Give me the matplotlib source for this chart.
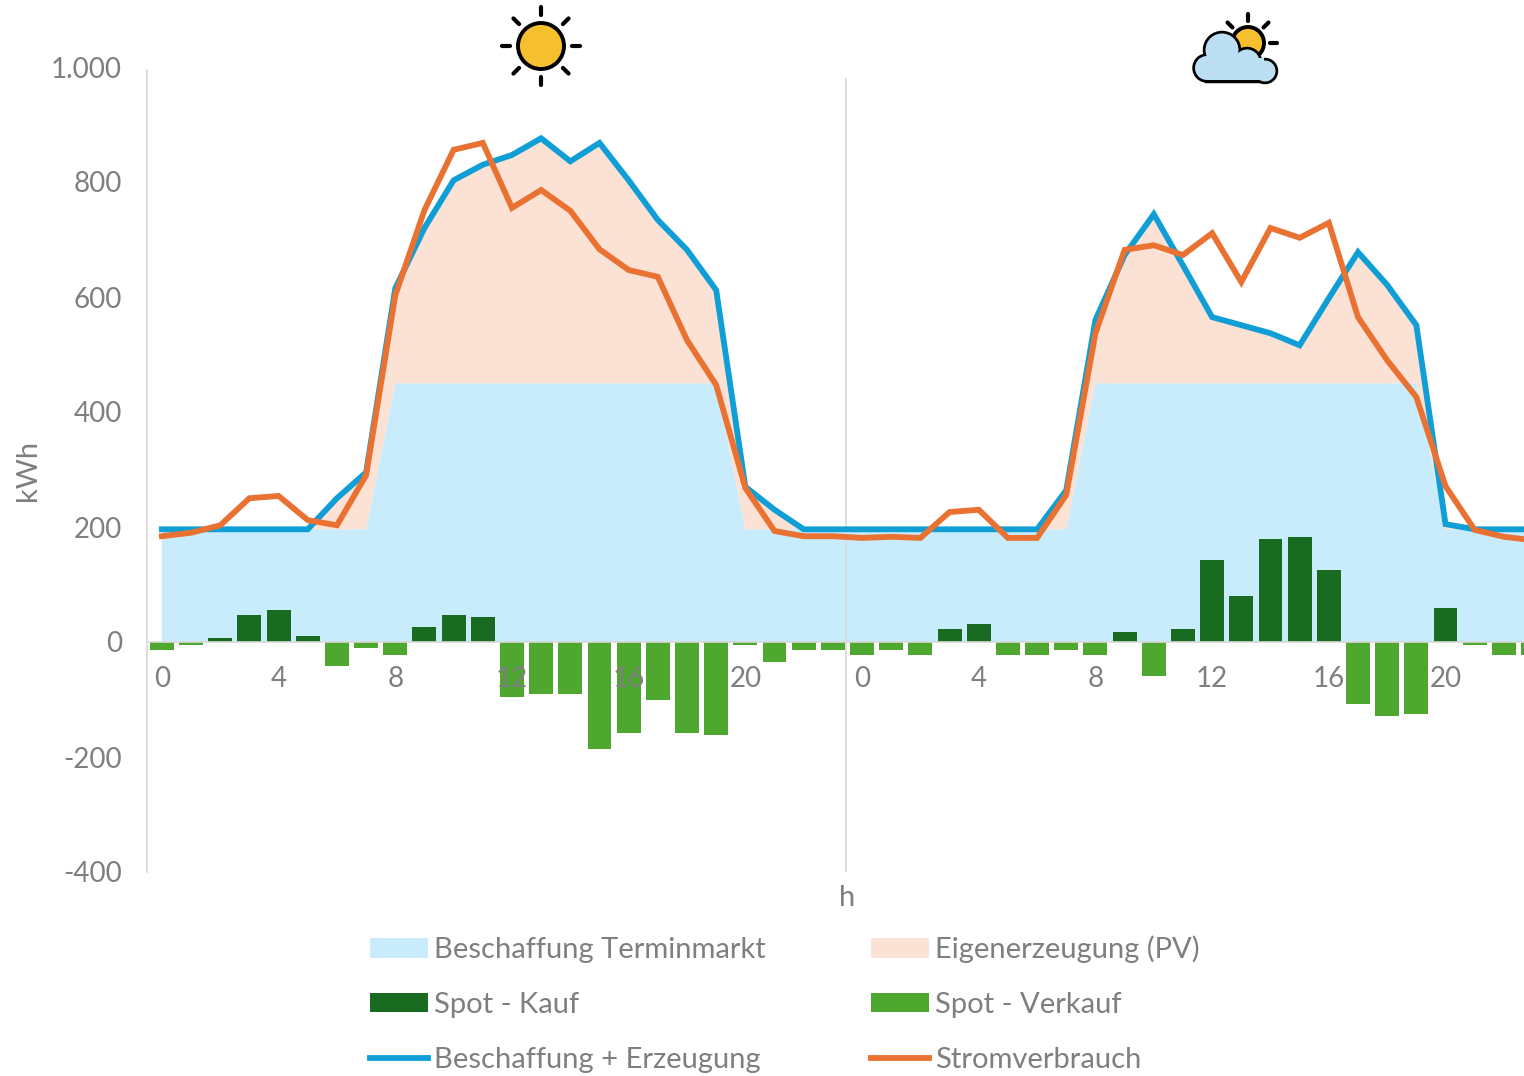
import matplotlib
matplotlib.use("Agg")
import matplotlib.pyplot as plt
import numpy as np
from matplotlib.patches import Circle, Rectangle

plt.rcParams['font.family'] = ['Lato', 'DejaVu Sans']

# two days, hourly
hours = list(range(48))
terminmarkt = [196] * 8 + [450] * 12 + [196] * 4 + [196] * 8 + [450] * 12 + [196] * 4
eigenerzeugung = [0, 0, 0, 0, 0, 0, 54, 99, 165, 270, 353, 380, 397, 426, 386, 418, 353, 284, 232, 162, 74, 34, 0, 0,
                  0, 0, 0, 0, 0, 0, 0, 68, 110, 223, 294, 205, 115, 101, 87, 66, 148, 228, 171, 101, 9, 0, 0, 0]
spot = [-14, -6, 7, 47, 56, 10, -42, -10, -22, 26, 47, 43, -96, -91, -91, -186, -158, -100, -158, -162, -6, -34, -14, -14,
        -22, -14, -22, 22, 31, -22, -22, -14, -22, 18, -59, 22, 142, 80, 179, 183, 125, -108, -129, -125, 60, -6, -22, -22]
beschaffung = [196, 196, 196, 196, 196, 196, 250, 295, 615, 720, 803, 830, 847, 876, 836, 868, 803, 734, 682, 612, 270, 230, 196, 196,
               196, 196, 196, 196, 196, 196, 196, 264, 560, 673, 744, 655, 565, 551, 537, 516, 598, 678, 621, 551, 205, 196, 196, 196]
verbrauch = [184, 190, 203, 250, 254, 212, 203, 290, 603, 751, 856, 868, 755, 786, 750, 683, 647, 635, 525, 447, 268, 193, 184, 184,
             181, 183, 181, 226, 230, 181, 181, 256, 537, 682, 690, 673, 711, 626, 720, 703, 729, 565, 490, 426, 271, 195, 183, 177]

x_ticks = [0, 4, 8, 12, 16, 20, 24, 28, 32, 36, 40, 44]
x_labels = ['0', '4', '8', '12', '16', '20', '0', '4', '8', '12', '16', '20']
y_ticks = [-400, -200, 0, 200, 400, 600, 800, 1000]
y_labels = ['-400', '-200', '0', '200', '400', '600', '800', '1.000']

GREY = '#7f7f7f'
W, H = 1524, 1076

fig = plt.figure(figsize=(W / 100, H / 100), dpi=100)
ax = fig.add_axes([147 / W, 1 - 872 / H, 1 - 147 / W, (872 - 67) / H])
ax.set_xlim(-0.51, 46.69)
ax.set_ylim(-400, 1000)

polys = ax.stackplot(hours, terminmarkt, eigenerzeugung, colors=['#c8ecfc', '#fbe2d5'], zorder=0)

spot = np.array(spot)
hours_arr = np.array(hours)
kauf = ax.bar(hours_arr[spot > 0], spot[spot > 0], width=0.82, color='#1a6b22', zorder=1)
verkauf = ax.bar(hours_arr[spot < 0], spot[spot < 0], width=0.82, color='#4ea72e', zorder=1)

blue, = ax.plot(hours, beschaffung, color='#0f9ed5', lw=4.2, solid_joinstyle='miter', zorder=3)
orange, = ax.plot(hours, verbrauch, color='#e97132', lw=4.2, solid_joinstyle='miter', zorder=4)

# divider between the two days
ax.plot([23.45, 23.45], [-400, 980], color='#d9d9d9', lw=1.2, zorder=0.5)

for s in ['top', 'right']:
    ax.spines[s].set_visible(False)
ax.spines['left'].set_color('#d9d9d9')
ax.spines['left'].set_linewidth(1.2)
ax.spines['left'].set_bounds(-400, 995)
ax.spines['bottom'].set_position(('data', 0))
ax.spines['bottom'].set_color('#d9d9d9')
ax.spines['bottom'].set_linewidth(1.2)
ax.spines['bottom'].set_zorder(1.5)

ax.set_xticks(x_ticks)
ax.set_xticklabels(x_labels)
ax.set_yticks(y_ticks)
ax.set_yticklabels(y_labels)
ax.tick_params(axis='x', length=0, pad=17, labelsize=20, labelcolor=GREY)
ax.tick_params(axis='y', length=0, pad=18, labelsize=20, labelcolor=GREY)
for t in ax.get_xticklabels():
    t.set_zorder(6)

# overlay in pixel coordinates for labels and the weather icons
ov = fig.add_axes([0, 0, 1, 1])
ov.set_xlim(0, W)
ov.set_ylim(H, 0)
ov.axis('off')
ov.patch.set_alpha(0)

ov.text(28, 470, 'kWh', rotation=90, ha='center', va='center', fontsize=21, color=GREY)
ov.text(847, 898, 'h', ha='center', va='center', fontsize=21, color=GREY)


def rays(cx, cy, r0, r1, angles):
    for a in angles:
        c, s = np.cos(np.radians(a)), np.sin(np.radians(a))
        ov.plot([cx + r0 * c, cx + r1 * c], [cy - r0 * s, cy - r1 * s], color='black', lw=3, solid_capstyle='round')


# sun
rays(541, 46, 31, 39, [0, 45, 90, 135, 180, 225, 270, 315])
ov.add_patch(Circle((541, 46), 23, fc='#f5bf2e', ec='black', lw=2.8))

# small sun behind the cloud
rays(1248, 43, 22, 29, [0, 45, 90, 135])
ov.add_patch(Circle((1248, 43), 16, fc='#f5bf2e', ec='black', lw=2.8, zorder=3))

# cloud: outlined shapes first, then the same shapes unoutlined on top
cloud_circles = [((1222, 50), 17), ((1207, 68), 12.5), ((1247, 62), 13), ((1265, 71), 11)]
for c, r in cloud_circles:
    ov.add_patch(Circle(c, r, fc='#bcdff3', ec='black', lw=3.2, zorder=4))
ov.add_patch(Rectangle((1207, 62), 58, 18.5, fc='#bcdff3', ec='black', lw=3.2, zorder=4))
for c, r in cloud_circles:
    ov.add_patch(Circle(c, r - 0.5, fc='#bcdff3', ec='none', zorder=5))
ov.add_patch(Rectangle((1208, 58), 56, 21.5, fc='#bcdff3', ec='none', zorder=5))

handles = [polys[0], kauf, blue, polys[1], verkauf, orange]
labels = ['Beschaffung Terminmarkt', 'Spot - Kauf', 'Beschaffung + Erzeugung',
          'Eigenerzeugung (PV)', 'Spot - Verkauf', 'Stromverbrauch']
fig.legend(handles, labels, ncol=2, loc='upper left', bbox_to_anchor=(361 / W, 1 - 927 / H),
           frameon=False, fontsize=21, labelcolor=GREY, handlelength=2.0, handleheight=0.65,
           handletextpad=0.2, columnspacing=3.6, labelspacing=0.98, borderaxespad=0, borderpad=0.3)

fig.savefig('out.png', dpi=100)
